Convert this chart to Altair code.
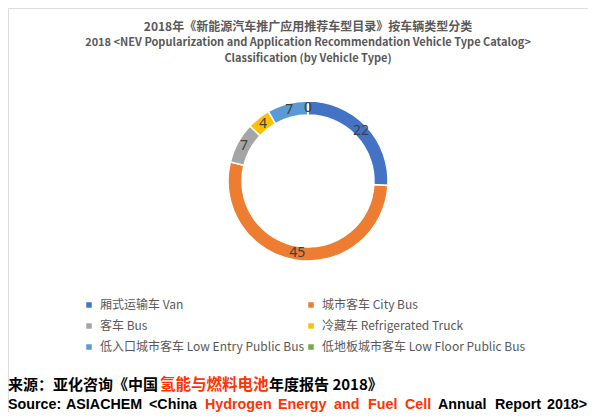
import altair as alt
import pandas as pd

categories = [
    "厢式运输车 Van",
    "城市客车 City Bus",
    "客车 Bus",
    "冷藏车 Refrigerated Truck",
    "低入口城市客车 Low Entry Public Bus",
    "低地板城市客车 Low Floor Public Bus",
]
values = [22, 45, 7, 4, 7, 0]
colors = ["#4472C4", "#ED7D31", "#A5A5A5", "#FFC000", "#5B9BD5", "#70AD47"]

title_lines = [
    "2018年《新能源汽车推广应用推荐车型目录》按车辆类型分类",
    "2018 <NEV Popularization and Application Recommendation Vehicle Type Catalog>",
    "Classification (by Vehicle Type)",
]
source_cn = ["来源：亚化咨询《中国", "氢能与燃料电池", "年度报告 2018》"]
source_cn_colors = ["#000000", "#FF3300", "#000000"]
source_en = ["Source:", "ASIACHEM", "<China", "Hydrogen", "Energy", "and", "Fuel", "Cell",
             "Annual", "Report", "2018>"]
source_en_colors = ["#000000"] * 3 + ["#FF3300"] * 5 + ["#000000"] * 3

df = pd.DataFrame({"category": categories, "value": values, "idx": list(range(len(values)))})

# legend is laid out column-major; reorder so it reads row by row like the original
legend_order = [0, 2, 4, 1, 3, 5]
legend_domain = [categories[i] for i in legend_order]
legend_range = [colors[i] for i in legend_order]

CX, CY = 300, 173
CJK = "Noto Sans CJK SC"

base = alt.Chart(df)
theta = alt.Theta("value:Q", stack=True)
order = alt.Order("idx:Q")

arc = base.mark_arc(outerRadius=80, innerRadius=66, stroke="white", strokeWidth=1.5).encode(
    theta=theta,
    order=order,
    x=alt.value(CX),
    y=alt.value(CY),
    color=alt.Color(
        "category:N",
        scale=alt.Scale(domain=legend_domain, range=legend_range),
        legend=alt.Legend(
            orient="none",
            legendX=75,
            legendY=291,
            columns=2,
            title=None,
            symbolType="square",
            symbolSize=30,
            symbolStrokeWidth=0,
            labelFont=CJK,
            labelFontSize=12,
            labelColor="#595959",
            labelOffset=5,
            rowPadding=9,
            columnPadding=0,
            padding=0,
            labelLimit=400,
        ),
    ),
)

labels = base.mark_text(radius=73, fontSize=14, font="Noto Sans", color="#404040",
                        align="center", baseline="middle").encode(
    theta=theta,
    order=order,
    x=alt.value(CX),
    y=alt.value(CY),
    text="value:Q",
)

layers = [arc, labels]

title_y = [19, 35, 51]
title_size = [12, 11, 11]
for line, yy, fs in zip(title_lines, title_y, title_size):
    layers.append(
        alt.Chart(pd.DataFrame({"t": [line]}))
        .mark_text(font=CJK, fontSize=fs, fontWeight="bold", color="#595959",
                   align="center", baseline="middle")
        .encode(text="t:N", x=alt.value(CX), y=alt.value(yy))
    )

cn_x = [0, 152, 261]
cn_size = [15, 15.5, 15]
for seg, col, xx, fs in zip(source_cn, source_cn_colors, cn_x, cn_size):
    layers.append(
        alt.Chart(pd.DataFrame({"t": [seg]}))
        .mark_text(font=CJK, fontSize=fs, fontWeight="bold", color=col,
                   align="left", baseline="middle")
        .encode(text="t:N", x=alt.value(xx), y=alt.value(377))
    )

en_x = [0, 58, 141, 197, 270, 326, 360, 397, 430, 487, 539]
for seg, col, xx in zip(source_en, source_en_colors, en_x):
    layers.append(
        alt.Chart(pd.DataFrame({"t": [seg]}))
        .mark_text(font="Liberation Sans", fontSize=14.3, fontWeight="bold", color=col,
                   align="left", baseline="middle")
        .encode(text="t:N", x=alt.value(xx), y=alt.value(397))
    )

chart = (
    alt.layer(*layers)
    .properties(width=580, height=404, autosize=alt.AutoSizeParams(type="none"), padding=0)
    .configure_view(strokeWidth=0)
    .configure(background="white")
)

chart.save("out.html", embed_options={"renderer": "svg", "actions": False})
